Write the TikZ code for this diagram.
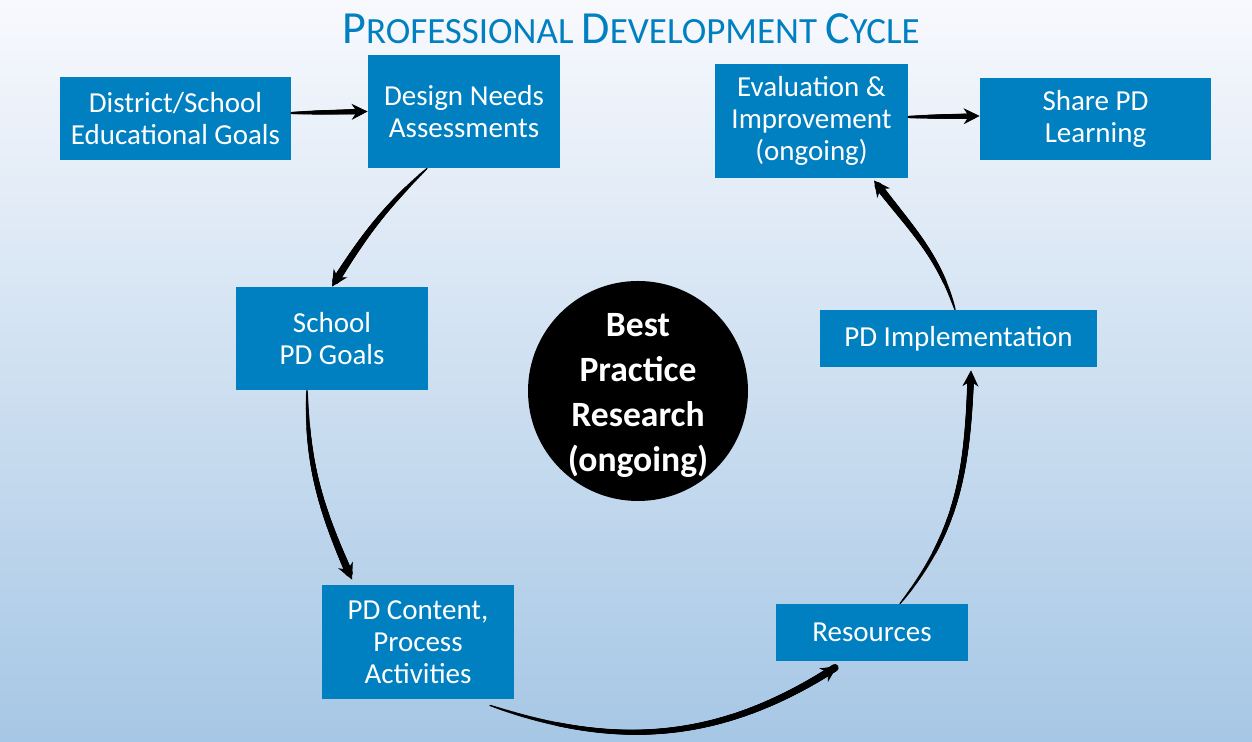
\documentclass[tikz,border=0pt]{standalone}
\usepackage{fontspec}
\setmainfont{Carlito}
\usetikzlibrary{decorations.markings,arrows.meta,calc}
\definecolor{pdblue}{RGB}{0,128,192}
\definecolor{bgtop}{RGB}{248,249,253}
\definecolor{bgbot}{RGB}{166,199,229}
\newcommand\boxfont{\fontsize{14.5pt}{16pt}\selectfont}
\newcommand\circfont{\bfseries\fontsize{17.8pt}{22.5pt}\selectfont}
\newcommand\tBig[1]{{\fontsize{23pt}{23pt}\selectfont #1}}
\newcommand\tSmall[1]{{\fontsize{18.5pt}{18.5pt}\selectfont #1}}
\tikzset{
  pdbox/.style={fill=pdblue,text=white,align=center,inner sep=0pt,font=\boxfont},
  taper/.style 2 args={draw=black,line width=0.4pt,-{Stealth[length=8pt,width=8pt]},
    postaction={decorate},
    decoration={markings,mark=between positions 0 and -3pt step 0.4pt with {
      \pgfmathsetmacro\tr{#1+(#2-#1)*sqrt((\pgfkeysvalueof{/pgf/decoration/mark info/distance from start})/(\pgfdecoratedpathlength))}
      \fill[black] (0,0) circle[radius=\tr pt];}}},
}
\begin{document}
\begin{tikzpicture}[x=0.5pt,y=0.5pt]
\shade[top color=bgtop,bottom color=bgbot] (0,0) rectangle (1252,742);
\useasboundingbox (0,0) rectangle (1252,742);
\node[anchor=base,text=pdblue] (title) at (631,698)
  {\tBig{P}\tSmall{ROFESSIONAL}\hspace{4pt}\tBig{D}\tSmall{EVELOPMENT}\hspace{4pt}\tBig{C}\tSmall{YCLE}};
\node[pdbox,minimum width=115.5pt,minimum height=41.5pt] (dist) at (175.5,623.5) {District/School\\Educational Goals};
\node[pdbox,minimum width=96pt,minimum height=56.5pt] (design) at (464,630.5) {Design Needs\\Assessments};
\node[pdbox,minimum width=96.5pt,minimum height=57pt] (eval) at (811.5,621) {Evaluation \&\\Improvement\\(ongoing)};
\node[pdbox,minimum width=115.5pt,minimum height=41pt] (share) at (1095.5,623) {Share PD\\Learning};
\node[pdbox,minimum width=96pt,minimum height=51.5pt] (school) at (332,403.5) {School\\PD Goals};
\node[pdbox,minimum width=96pt,minimum height=57pt] (content) at (418,100) {PD Content,\\Process\\Activities};
\node[pdbox,minimum width=96pt,minimum height=28.5pt] (res) at (872,109.5) {Resources};
\node[pdbox,minimum width=138.5pt,minimum height=28.5pt] (impl) at (958.5,403.5) {PD Implementation};
\node[circle,fill=black,text=white,minimum size=110pt,inner sep=0pt,font=\circfont] (bpr) at (638,351)
  {\raisebox{-6.5pt}[0pt][0pt]{\parbox{72pt}{\centering Best\\Practice\\Research\\(ongoing)}}};
\draw[taper={0.55}{1.4}] ([yshift=2.75pt]dist.east) -- (design.west);
\draw[taper={0.3}{1.9}] ([xshift=-18.5pt]design.south) to[out=223,in=58] (school.north);
\draw[taper={0.3}{1.9}] ([xshift=-12.5pt]school.south) to[out=270,in=114] ([xshift=-33pt,yshift=2.5pt]content.north);
\draw[taper={0.3}{1.9}] ([xshift=36pt,yshift=-3pt]content.south) to[out=341,in=213] ([xshift=-17.5pt,yshift=-2.5pt]res.south);
\draw[taper={0.3}{1.7}] ([xshift=14pt]res.north) to[out=51,in=268] ([xshift=6.25pt,yshift=-1.5pt]impl.south);
\draw[taper={0.3}{1.9}] ([xshift=-1.75pt]impl.north) to[out=107,in=307] ([xshift=31.25pt,yshift=-1pt]eval.south);
\draw[taper={0.55}{1.4}] ([yshift=2pt]eval.east) -- ([yshift=1.5pt]share.west);
\end{tikzpicture}
\end{document}
